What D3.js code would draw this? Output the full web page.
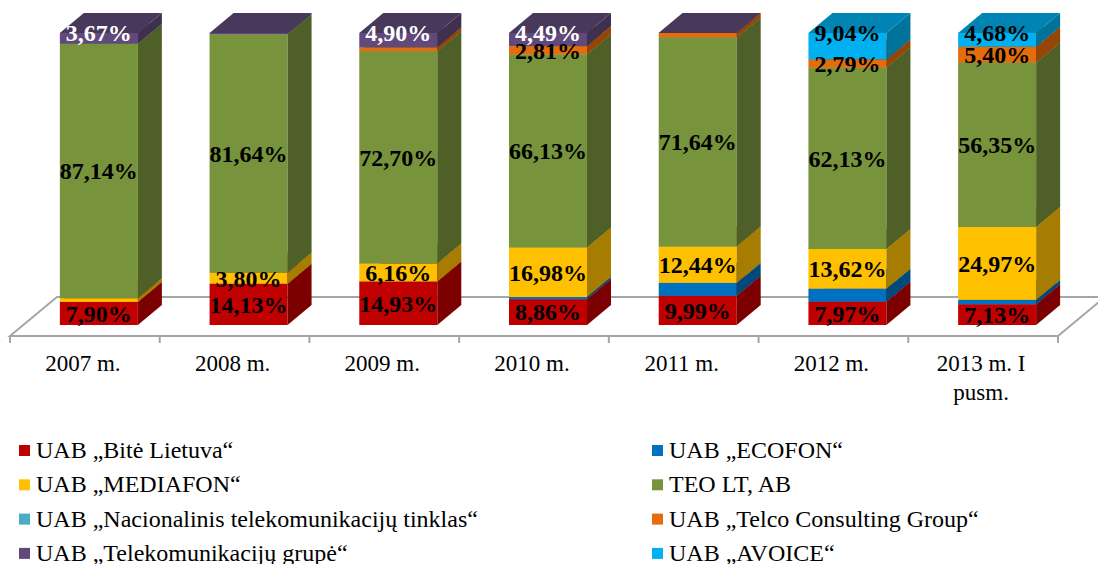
<!DOCTYPE html>
<html>
<head>
<meta charset="utf-8">
<script src="https://cdn.jsdelivr.net/npm/d3@7"></script>
<style>
  body { margin: 0; background: #fff; }
</style>
</head>
<body>
<script>
// Categories and series (stack order bottom -> top)
const years = ["2007 m.", "2008 m.", "2009 m.", "2010 m.", "2011 m.", "2012 m.", "2013 m. I pusm."];
const seriesNames = [
  "UAB „Bitė Lietuva“",
  "UAB „ECOFON“",
  "UAB „MEDIAFON“",
  "TEO LT, AB",
  "UAB „Nacionalinis telekomunikacijų tinklas“",
  "UAB „Telco Consulting Group“",
  "UAB „Telekomunikacijų grupė“",
  "UAB „AVOICE“"
];
const colors = ["#C00000", "#0070C0", "#FFC000", "#77933C", "#4BACC6", "#E46C0A", "#604A7B", "#00B0F0"];

// values per series, one entry per year (null = no data)
const bite        = [7.90, 14.13, 14.93, 8.86, 9.99, 7.97, 7.13];
const ecofon      = [null, null, null, 0.73, 4.42, 4.45, 1.47];
const mediafon    = [1.29, 3.80, 6.16, 16.98, 12.44, 13.62, 24.97];
const teo         = [87.14, 81.64, 72.70, 66.13, 71.64, 62.13, 56.35];
const ntt         = [null, null, null, null, null, null, null];
const telco       = [null, null, 1.31, 2.81, 1.51, 2.79, 5.40];
const telekomGrp  = [3.67, 0.43, 4.90, 4.49, 0, null, null];
const avoice      = [null, null, null, null, null, 9.04, 4.68];
const seriesValues = [bite, ecofon, mediafon, teo, ntt, telco, telekomGrp, avoice];

// series that get data labels (only where the value is large enough to read)
const labelled = [true, false, true, true, false, true, true, true];

const FONT = '"Liberation Serif", "Times New Roman", Times, serif';

const W = 1098, H = 564;
const svg = d3.select("body").append("svg")
    .attr("width", W)
    .attr("height", H)
    .attr("font-family", FONT);

const x = d3.scaleBand()
    .domain(years)
    .range([10, 1058]);

const y = d3.scaleLinear()
    .domain([0, 100])
    .range([325, 33]);

const barW = 78;
const shiftX = 14;         // bars sit a bit back on the floor
const dX = 24, dY = 20;    // bar depth
const floorY = 336, fdX = 47, fdY = 39;

// Floor
const x0 = x.range()[0], x1 = x.range()[1];
svg.append("path")
    .attr("d", `M${x0},${floorY} L${x0 + fdX},${floorY - fdY} L${x1 + fdX},${floorY - fdY} L${x1},${floorY} Z`)
    .attr("fill", "none")
    .attr("stroke", "#a6a6a6")
    .attr("stroke-width", 2);

// Tick marks on the front edge
const tickXs = years.map(d => x(d)).concat([x1]);
svg.selectAll("line.tick")
    .data(tickXs)
  .enter().append("line")
    .attr("class", "tick")
    .attr("x1", d => d).attr("x2", d => d)
    .attr("y1", floorY).attr("y2", floorY + 7)
    .attr("stroke", "#a6a6a6")
    .attr("stroke-width", 2);

// Build stacked boxes
const boxes = [];
const labels = [];
years.forEach((yr, i) => {
  let cum = 0;
  const left = x(yr) + (x.bandwidth() - barW) / 2 + shiftX;
  const segs = [];
  seriesValues.forEach((vals, s) => {
    const v = vals[i];
    if (v === null) return;
    const seg = { s, v, lo: cum, hi: cum + v, left };
    segs.push(seg);
    boxes.push(seg);
    cum += v;
  });
  segs.forEach((seg, k) => {
    if (!labelled[seg.s] || seg.v < 2.5) return;
    const isTop = k === segs.length - 1;
    labels.push({
      x: seg.left + barW / 2,
      y: isTop ? y(seg.hi) : y((seg.lo + seg.hi) / 2),
      text: d3.format(".2f")(seg.v).replace(".", ",") + "%",
      fill: seg.s === 6 ? "#fff" : "#000"
    });
  });
});

const g = svg.append("g");
const box = g.selectAll("g.box")
    .data(boxes)
  .enter().append("g")
    .attr("class", "box");

// front
box.append("rect")
    .attr("x", d => d.left)
    .attr("y", d => y(d.hi))
    .attr("width", barW)
    .attr("height", d => y(d.lo) - y(d.hi))
    .attr("fill", d => colors[d.s]);

// side
box.append("path")
    .attr("d", d => {
      const r = d.left + barW, t = y(d.hi), b = y(d.lo);
      return `M${r},${b} L${r + dX},${b - dY} L${r + dX},${t - dY} L${r},${t} Z`;
    })
    .attr("fill", d => d3.color(colors[d.s]).darker(1.2));

// top
box.append("path")
    .attr("d", d => {
      const l = d.left, r = d.left + barW, t = y(d.hi);
      return `M${l},${t} L${l + dX},${t - dY} L${r + dX},${t - dY} L${r},${t} Z`;
    })
    .attr("fill", d => d3.color(colors[d.s]).darker(0.8));

// Data labels
svg.selectAll("text.val")
    .data(labels)
  .enter().append("text")
    .attr("class", "val")
    .attr("x", d => d.x)
    .attr("y", d => d.y)
    .attr("dy", "0.35em")
    .attr("text-anchor", "middle")
    .style("font-size", "24px")
    .style("font-weight", "bold")
    .attr("fill", d => d.fill)
    .text(d => d.text);

// Category labels (wrap the long one)
const catWrap = { "2013 m. I pusm.": ["2013 m. I", "pusm."] };
const cat = svg.selectAll("text.cat")
    .data(years)
  .enter().append("text")
    .attr("class", "cat")
    .attr("x", d => x(d) + x.bandwidth() / 2 - 2)
    .attr("y", 371)
    .attr("text-anchor", "middle")
    .style("font-size", "23px")
    .attr("fill", "#000");
cat.each(function(d) {
  const lines = catWrap[d] || [d];
  const t = d3.select(this);
  lines.forEach((ln, k) => {
    t.append("tspan")
      .attr("x", x(d) + x.bandwidth() / 2 - 2)
      .attr("dy", k === 0 ? 0 : 29)
      .text(ln);
  });
});

// Legend: two columns, row-wise order
const legend = svg.append("g");
const legItem = legend.selectAll("g")
    .data(seriesNames)
  .enter().append("g")
    .attr("transform", (d, i) => `translate(${i % 2 === 0 ? 19 : 652},${458 + Math.floor(i / 2) * 34.3})`);
legItem.append("rect")
    .attr("x", 0).attr("y", -13)
    .attr("width", 11).attr("height", 11)
    .attr("fill", (d, i) => colors[i]);
legItem.append("text")
    .attr("x", 17)
    .attr("y", 0)
    .style("font-size", "24px")
    .attr("fill", "#000")
    .text(d => d);
</script>
</body>
</html>
